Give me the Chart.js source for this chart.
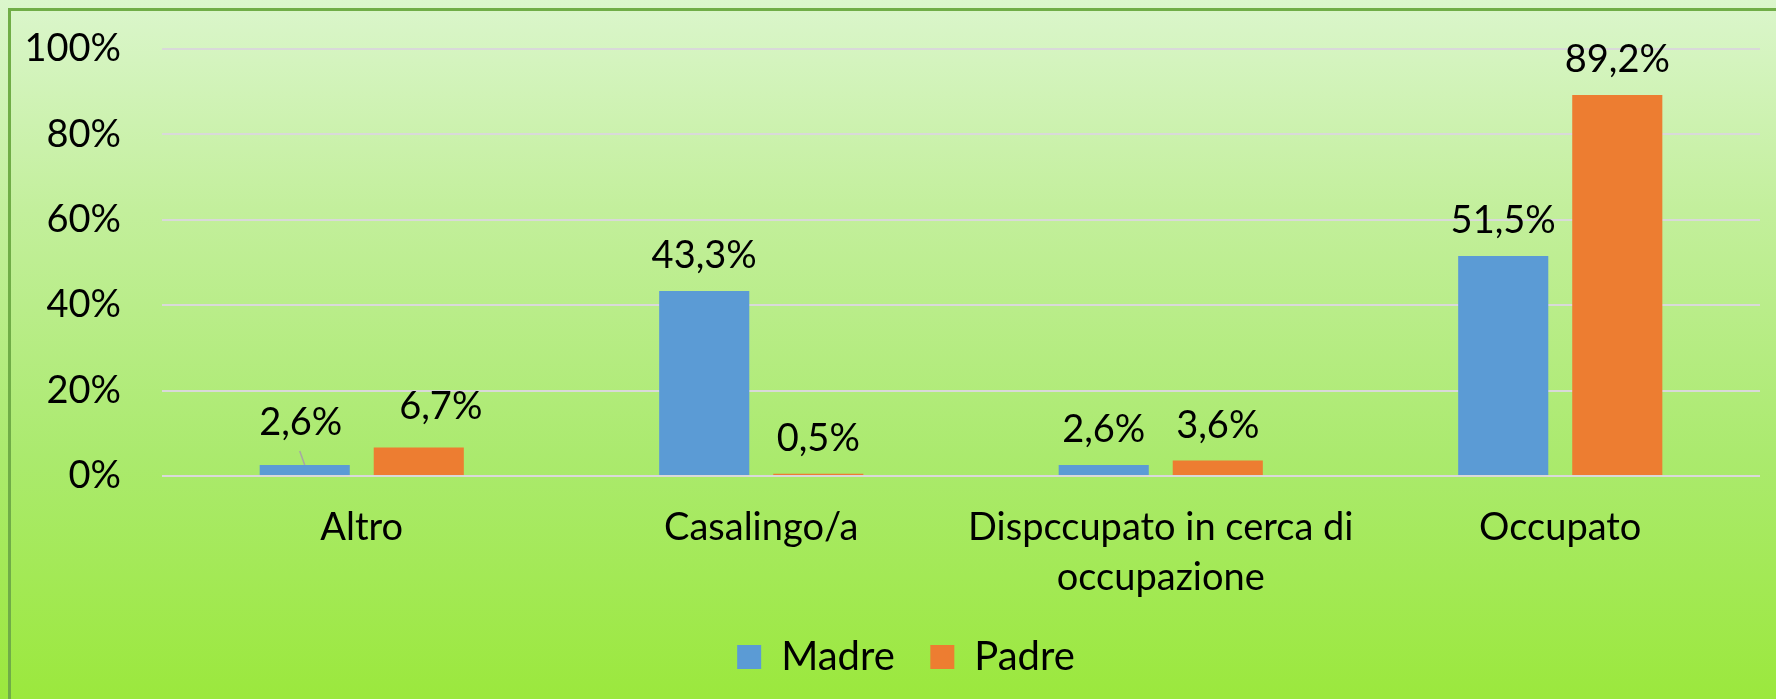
<!DOCTYPE html>
<html>
<head>
<meta charset="utf-8">
<script src="https://cdn.jsdelivr.net/npm/chart.js@4.4.1/dist/chart.umd.min.js"></script>
<style>
  html, body { margin: 0; padding: 0; }
  body {
    width: 1776px; height: 699px; overflow: hidden; position: relative;
    background: linear-gradient(to bottom, #dbf6cc 0%, #c3ef9c 30%, #abea6e 65%, #9be83d 100%);
  }
  #frame {
    position: absolute; left: 8px; top: 8px; width: 1900px; height: 900px;
    border-top: 3px solid #70ad47; border-left: 3px solid #70ad47;
  }
  #wrap { position: absolute; left: 0; top: 0; width: 1776px; height: 699px; }
</style>
</head>
<body>
<div id="frame"></div>
<div id="wrap"><canvas id="c" width="1776" height="699"></canvas></div>
<script>
const categories = ["Altro", "Casalingo/a", ["Dispccupato in cerca di", "occupazione"], "Occupato"];
const seriesNames = ["Madre", "Padre"];
const madreValues = [2.6, 43.3, 2.6, 51.5];
const padreValues = [6.7, 0.5, 3.6, 89.2];
const yTicks = [0, 20, 40, 60, 80, 100];

const FONT = "Lato, 'Open Sans', sans-serif";

const labelPlugin = {
  id: 'barLabels',
  afterDatasetsDraw(chart, args, opts) {
    const ctx = chart.ctx;
    ctx.save();
    ctx.font = "38px " + FONT;
    ctx.fillStyle = "#000";
    ctx.textAlign = "center";
    ctx.textBaseline = "alphabetic";
    chart.data.datasets.forEach((ds, di) => {
      const meta = chart.getDatasetMeta(di);
      meta.data.forEach((bar, i) => {
        const off = (opts.offsets[di] && opts.offsets[di][i]) || {dx: 0, dy: 0};
        const x = bar.x + off.dx;
        const y = bar.y - opts.gap + off.dy;
        const txt = ds.data[i].toFixed(1).replace('.', ',') + '%';
        ctx.fillText(txt, x, y);
        if (off.leader) {
          ctx.strokeStyle = "#a6a6a6";
          ctx.lineWidth = 1.5;
          ctx.beginPath();
          ctx.moveTo(x - 1, y + 16);
          ctx.lineTo(bar.x, bar.y);
          ctx.stroke();
        }
      });
    });
    ctx.restore();
  }
};

const legendShift = {
  id: 'legendShift',
  afterLayout(chart, args, opts) {
    if (chart.legend) {
      chart.legend.left += opts.dx;
      chart.legend.right += opts.dx;
    }
  }
};

new Chart(document.getElementById('c'), {
  type: 'bar',
  data: {
    labels: categories,
    datasets: [
      { label: seriesNames[0], data: madreValues, backgroundColor: '#5b9bd5' },
      { label: seriesNames[1], data: padreValues, backgroundColor: '#ed7d31' }
    ]
  },
  plugins: [labelPlugin, legendShift],
  options: {
    responsive: false,
    animation: false,
    devicePixelRatio: 1,
    categoryPercentage: 0.571,
    barPercentage: 0.79,
    layout: { padding: { left: 0, right: 16, top: 49, bottom: 12 } },
    plugins: {
      legend: {
        position: 'bottom',
        labels: {
          font: { family: FONT, size: 40 },
          color: '#000',
          boxWidth: 24, boxHeight: 24,
          padding: 15,
          generateLabels(chart) {
            const items = Chart.defaults.plugins.legend.labels.generateLabels(chart);
            items.forEach((it, i) => { if (i < items.length - 1) it.text = it.text + '  '; });
            return items;
          }
        }
      },
      legendShift: { dx: 26 },
      tooltip: { enabled: false },
      barLabels: {
        gap: 23,
        offsets: [
          [{dx: -4, dy: -7, leader: true}],
          [{dx: 22, dy: -5}]
        ]
      }
    },
    scales: {
      x: {
        grid: { display: false },
        border: { display: false },
        ticks: {
          font: { family: FONT, size: 38, lineHeight: 1.316 },
          color: '#000',
          padding: 19,
          maxRotation: 0, autoSkip: false
        }
      },
      y: {
        min: 0, max: 100,
        afterFit(scale) { scale.width = 162; scale.paddingTop = 0; scale.paddingBottom = 0; },
        afterBuildTicks(scale) { scale.ticks = yTicks.map(v => ({ value: v })); },
        grid: { color: '#d9d9d9', lineWidth: 2, drawTicks: false },
        border: { display: false },
        ticks: {
          font: { family: FONT, size: 38 },
          color: '#000',
          padding: 41,
          callback: v => v + '%'
        }
      }
    }
  }
});
</script>
</body>
</html>
